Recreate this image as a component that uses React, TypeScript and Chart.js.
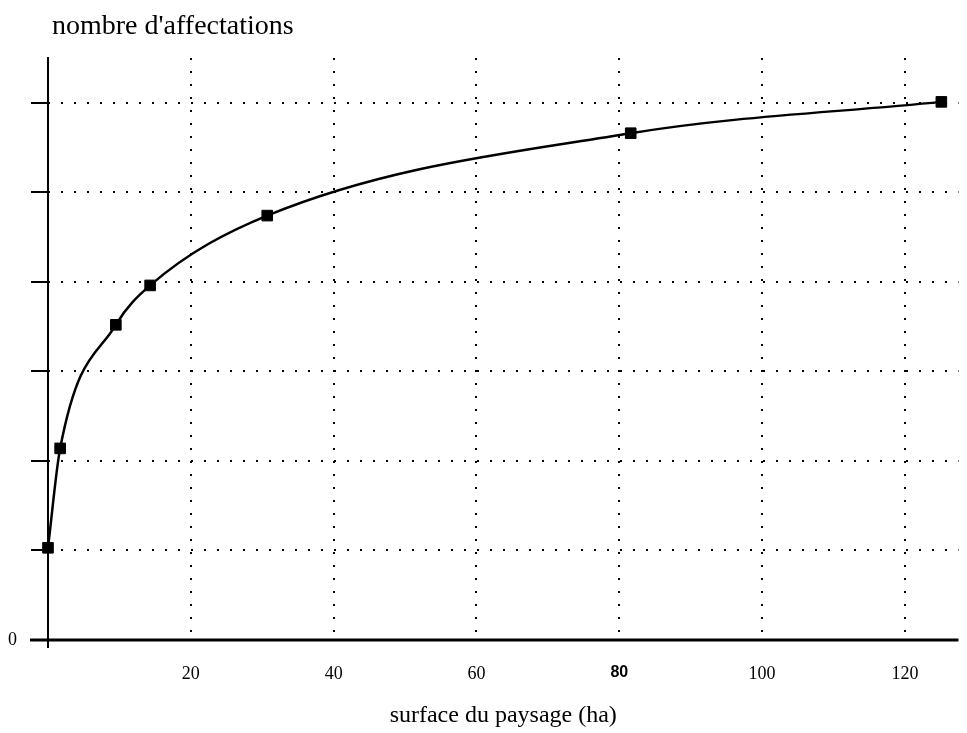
import React, { useEffect, useRef } from "react";
import { Chart, registerables } from "chart.js";

Chart.register(...registerables);

// Data
const surfaceHa = [0, 1.7, 9.5, 14.3, 30.7, 81.6, 125.1];
const nbAffectations = [1.03, 2.14, 3.52, 3.96, 4.74, 5.66, 6.01];

const xTickValues = [0, 20, 40, 60, 80, 100, 120];
const xTickLabels = ["", "20", "40", "60", "80", "100", "120"];
const yTickValues = [0, 1, 2, 3, 4, 5, 6];
const yTickLabels = ["0", "", "", "", "", "", ""];

const yTitle = "nombre d'affectations";
const xTitle = "surface du paysage (ha)";

const SERIF = "'Liberation Serif', 'Times New Roman', serif";

const decorPlugin = {
  id: "decor",
  beforeDatasetsDraw(chart: any) {
    const { ctx, chartArea } = chart;
    const { left, right, top, bottom } = chartArea;
    ctx.save();
    ctx.strokeStyle = "#000";
    ctx.setLineDash([]);
    // y axis line
    ctx.lineWidth = 2;
    ctx.beginPath();
    ctx.moveTo(left, top - 1);
    ctx.lineTo(left, bottom + 8);
    ctx.stroke();
    // x axis line
    ctx.lineWidth = 3;
    ctx.beginPath();
    ctx.moveTo(left - 18, bottom);
    ctx.lineTo(right, bottom);
    ctx.stroke();
    // title at the top
    ctx.fillStyle = "#000";
    ctx.font = "28px " + SERIF;
    ctx.textAlign = "left";
    ctx.textBaseline = "alphabetic";
    ctx.fillText(yTitle, left + 4, 34);
    ctx.restore();
  },
};

export default function App() {
  const canvasRef = useRef<HTMLCanvasElement | null>(null);

  useEffect(() => {
    const canvas = canvasRef.current;
    if (!canvas) return;
    const chart = new Chart(canvas, {
      type: "line",
      data: {
        datasets: [
          {
            data: surfaceHa.map((x, i) => ({ x, y: nbAffectations[i] })),
            borderColor: "#000",
            backgroundColor: "#000",
            borderWidth: 2.5,
            pointStyle: "rect",
            pointRadius: 7.5,
            pointBorderWidth: 1,
            pointBackgroundColor: "#000",
            pointBorderColor: "#000",
            cubicInterpolationMode: "monotone",
            clip: false,
            fill: false,
          } as any,
        ],
      },
      options: {
        responsive: false,
        animation: false,
        layout: { padding: { top: 58, right: 7, bottom: 0, left: 0 } },
        plugins: {
          legend: { display: false },
          tooltip: { enabled: false },
          title: { display: false },
        },
        scales: {
          x: {
            type: "linear",
            min: 0,
            max: 127.5,
            afterBuildTicks: (scale: any) => {
              scale.ticks = xTickValues.map((v) => ({ value: v }));
            },
            afterFit: (scale: any) => {
              scale.height = 93;
            },
            ticks: {
              autoSkip: false,
              maxRotation: 0,
              padding: 23,
              color: "#000",
              callback: (value: any) => {
                const i = xTickValues.indexOf(Number(value));
                return i >= 0 ? xTickLabels[i] : "";
              },
              font: ((ctx: any) =>
                ctx.tick && ctx.tick.value === 80
                  ? { family: "'Liberation Sans', Arial, sans-serif", size: 16, weight: "bold" }
                  : { family: SERIF, size: 18 }) as any,
            },
            grid: {
              display: true,
              drawOnChartArea: true,
              drawTicks: false,
              color: (ctx: any) => (ctx.tick && ctx.tick.value === 0 ? "rgba(0,0,0,0)" : "#000"),
              lineWidth: 2,
            },
            border: { display: false, dash: [2, 11] },
            title: {
              display: true,
              text: xTitle,
              color: "#000",
              font: { family: SERIF, size: 24 },
              padding: { top: 0, bottom: 3 },
            },
          },
          y: {
            type: "linear",
            min: 0,
            max: 6.5,
            afterBuildTicks: (scale: any) => {
              scale.ticks = yTickValues.map((v) => ({ value: v }));
            },
            afterFit: (scale: any) => {
              scale.width = 48;
            },
            ticks: {
              autoSkip: false,
              padding: 14,
              color: "#000",
              font: { family: SERIF, size: 18 },
              callback: (value: any) => {
                const i = yTickValues.indexOf(Number(value));
                return i >= 0 ? yTickLabels[i] : "";
              },
            },
            grid: {
              display: true,
              drawOnChartArea: true,
              drawTicks: true,
              tickLength: 17,
              tickWidth: 2,
              tickColor: "#000",
              tickBorderDash: [],
              color: (ctx: any) => (ctx.tick && ctx.tick.value === 0 ? "rgba(0,0,0,0)" : "#000"),
              lineWidth: 2,
            },
            border: { display: false, dash: [2, 11] },
          },
        },
      },
      plugins: [decorPlugin],
    } as any);
    return () => chart.destroy();
  }, []);

  return (
    <div
      style={{
        position: "fixed",
        left: 0,
        top: 0,
        width: 967,
        height: 733,
        background: "#fff",
      }}
    >
      <canvas ref={canvasRef} width={967} height={733} style={{ display: "block" }} />
    </div>
  );
}
